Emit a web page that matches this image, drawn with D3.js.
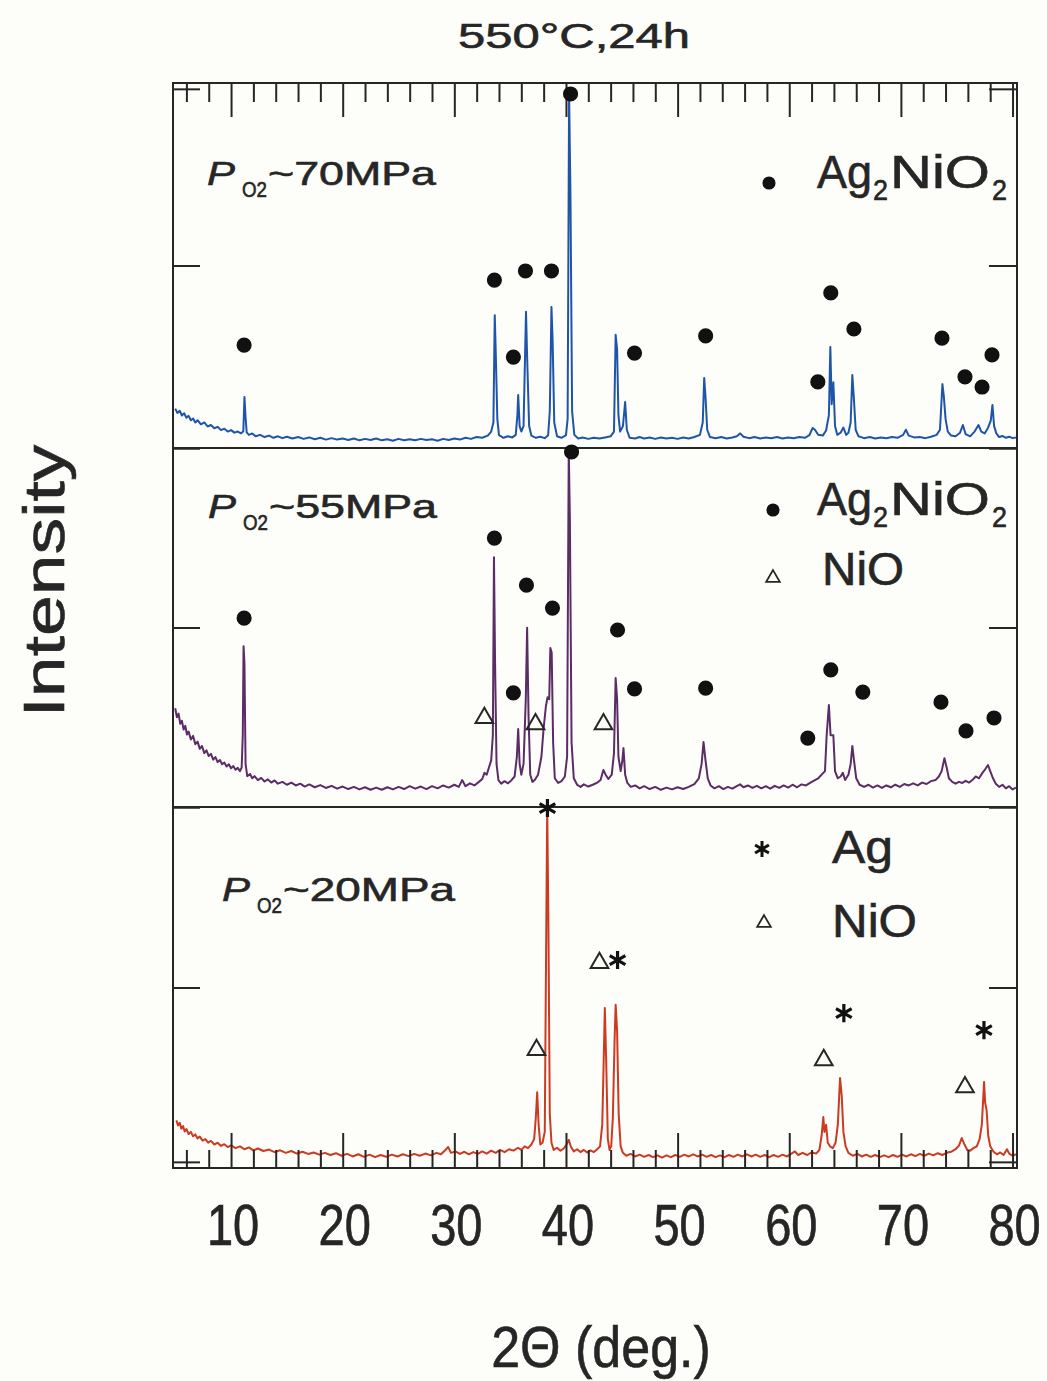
<!DOCTYPE html>
<html><head><meta charset="utf-8">
<script src="https://cdn.jsdelivr.net/npm/d3@7"></script>
<style>html,body{margin:0;padding:0;background:#fdfdf9;}svg{display:block;}</style>
</head><body>
<script>
// ---------------- DATA ----------------
const titleText = "550°C,24h";
const xAxisTitle = "2Θ (deg.)";
const yAxisTitle = "Intensity";
const pressures = ["~70MPa", "~55MPa", "~20MPa"];
const xTickLabels = [10, 20, 30, 40, 50, 60, 70, 80];
const xMinorTicks = [6, 8, 12, 14, 16, 18, 22, 24, 26, 28, 32, 34, 36, 38, 42, 44, 46, 48, 52, 54, 56, 58, 62, 64, 66, 68, 72, 74, 76, 78];

// [2theta, intensity(% of panel height)]
const trace70 = [
[5.0,10.8],[5.2,9.6],[5.4,10.2],[5.6,8.9],[5.8,9.5],[6.0,8.3],[6.2,8.8],[6.4,7.6],[6.6,8.1],[6.8,7.0],[7.0,7.6],[7.3,6.5],[7.6,7.0],[7.9,5.9],[8.2,6.3],[8.5,5.4],[8.8,5.8],[9.1,4.9],[9.4,5.3],[9.7,4.5],[10.0,4.9],[10.3,4.2],[10.6,4.5],[10.9,4.0],[11.1,4.6],[11.2,14.0],[11.3,8.5],[11.4,4.3],[11.6,3.6],[11.9,4.0],[12.2,3.2],[12.6,3.6],[13.0,3.0],[13.4,3.4],[13.8,2.8],[14.2,3.2],[14.6,2.7],[15.0,3.1],[15.5,2.6],[16.0,3.0],[16.5,2.5],[17.0,2.9],[17.5,2.4],[18.0,2.8],[18.5,2.3],[19.0,2.7],[19.5,2.3],[20.0,2.6],[20.5,2.2],[21.0,2.6],[21.5,2.1],[22.0,2.5],[22.5,2.2],[23.0,2.6],[23.5,2.1],[24.0,2.4],[24.5,2.0],[25.0,2.5],[25.5,2.1],[26.0,2.4],[26.5,2.1],[27.0,2.5],[27.5,2.2],[28.0,2.4],[28.5,2.0],[29.0,2.5],[29.5,2.2],[30.0,2.6],[30.5,2.3],[31.0,2.8],[31.5,2.5],[32.0,3.0],[32.5,2.8],[33.0,3.4],[33.3,4.5],[33.5,7.0],[33.62,36.4],[33.72,25],[33.85,8],[34.0,3.5],[34.4,2.8],[34.8,3.2],[35.2,2.9],[35.5,3.6],[35.65,9],[35.72,14.5],[35.85,6],[36.0,4.5],[36.2,6],[36.42,37.3],[36.52,25],[36.7,6],[36.9,3.4],[37.3,2.8],[37.7,3.1],[38.1,2.7],[38.4,3.5],[38.55,10],[38.7,38.6],[38.8,30],[38.95,7],[39.2,3.2],[39.6,2.8],[40.0,3.5],[40.15,8],[40.28,97],[40.4,70],[40.55,10],[40.75,3.6],[41.1,2.6],[41.5,2.9],[42.0,2.5],[42.5,2.8],[43.0,2.6],[43.5,2.9],[44.0,3.2],[44.3,4.5],[44.45,31],[44.58,27],[44.7,9],[44.85,4.5],[45.1,6],[45.3,12.6],[45.45,5],[45.7,2.8],[46.2,2.6],[46.6,3.0],[47.0,2.6],[47.5,2.9],[48.0,2.5],[48.5,2.9],[49.0,2.6],[49.5,2.8],[50.0,2.5],[50.5,2.9],[51.0,2.6],[51.5,3.0],[52.0,3.6],[52.25,7],[52.38,19.2],[52.5,14],[52.65,5],[52.9,3.0],[53.4,2.7],[53.9,3.0],[54.4,2.6],[54.9,2.9],[55.3,3.2],[55.6,4.0],[55.9,3.1],[56.4,2.7],[56.9,3.0],[57.4,2.6],[57.9,2.9],[58.4,2.7],[58.9,3.0],[59.4,2.6],[59.9,2.9],[60.4,2.7],[60.9,3.0],[61.4,2.8],[61.8,3.5],[62.1,5.5],[62.3,5.0],[62.6,3.6],[63.0,3.4],[63.3,4.8],[63.55,9],[63.68,27.7],[63.8,12],[63.95,18],[64.1,6],[64.3,3.6],[64.6,4.2],[64.85,5.6],[65.1,3.6],[65.3,4.2],[65.5,7],[65.65,20],[65.78,14],[65.95,5],[66.2,3.2],[66.7,2.7],[67.2,3.0],[67.7,2.6],[68.2,2.9],[68.7,2.7],[69.2,3.0],[69.7,2.8],[70.2,3.6],[70.45,5.0],[70.7,3.4],[71.2,2.9],[71.7,3.0],[72.2,2.7],[72.7,3.1],[73.2,3.6],[73.5,5.0],[73.72,17.5],[73.85,14],[74.0,8],[74.2,4.5],[74.5,3.4],[74.9,3.2],[75.3,4.2],[75.55,6.3],[75.8,3.8],[76.2,3.2],[76.6,4.5],[76.95,6.3],[77.2,4.5],[77.5,4.0],[77.8,5.5],[78.05,7.5],[78.2,11.8],[78.35,6],[78.55,4.0],[78.8,3.0],[79.1,3.3],[79.4,2.8],[79.7,3.1],[80.0,2.7],[80.3,2.9]
];
const trace55 = [
[5.0,27.5],[5.15,25.0],[5.3,26.0],[5.45,23.2],[5.6,24.0],[5.75,21.6],[5.9,22.6],[6.05,20.2],[6.2,21.0],[6.4,18.8],[6.6,19.8],[6.8,17.5],[7.0,18.2],[7.2,16.2],[7.4,17.0],[7.6,15.0],[7.8,15.8],[8.0,14.2],[8.2,14.8],[8.4,13.2],[8.6,13.9],[8.8,12.5],[9.0,13.1],[9.2,11.9],[9.4,12.4],[9.6,11.3],[9.8,11.9],[10.0,10.8],[10.2,11.4],[10.4,10.4],[10.6,10.9],[10.8,10.0],[10.95,11.0],[11.05,20],[11.12,44.8],[11.2,40],[11.3,12],[11.45,8.6],[11.7,9.2],[11.9,8.0],[12.1,8.6],[12.4,7.5],[12.7,8.1],[13.0,7.1],[13.3,7.7],[13.6,6.8],[13.9,7.4],[14.2,6.5],[14.6,7.0],[15.0,6.2],[15.4,6.8],[15.8,6.0],[16.2,6.5],[16.6,5.7],[17.0,6.3],[17.5,5.5],[18.0,6.1],[18.5,5.3],[19.0,5.9],[19.5,5.1],[20.0,5.7],[20.5,5.0],[21.0,5.6],[21.5,4.9],[22.0,5.5],[22.5,4.8],[23.0,5.4],[23.5,4.8],[24.0,5.5],[24.5,4.9],[25.0,5.6],[25.5,5.0],[26.0,5.8],[26.5,5.1],[27.0,5.7],[27.5,5.0],[28.0,5.8],[28.5,5.2],[29.0,6.0],[29.5,5.4],[30.0,6.2],[30.4,5.6],[30.7,7.5],[31.0,5.8],[31.4,6.6],[31.8,6.0],[32.2,7.0],[32.5,7.8],[32.7,9.5],[32.9,9.0],[33.1,11],[33.3,13],[33.45,20],[33.55,69.6],[33.65,40],[33.78,12],[33.95,7.5],[34.2,6.5],[34.5,7.2],[34.8,6.6],[35.1,7.4],[35.4,8.5],[35.6,14],[35.72,21.7],[35.85,12],[36.0,9],[36.2,12],[36.4,30],[36.52,49.9],[36.65,25],[36.8,9],[37.0,7],[37.2,7.5],[37.5,9],[37.8,14],[38.0,22],[38.2,28],[38.35,30.6],[38.5,30],[38.6,44.3],[38.72,43],[38.85,18],[39.0,8],[39.3,6.7],[39.6,7.2],[39.9,8.5],[40.1,14],[40.25,99.5],[40.35,80],[40.5,18],[40.7,8],[41.0,6.2],[41.3,5.6],[41.6,6.3],[42.0,5.7],[42.4,6.2],[42.8,6.8],[43.1,7.5],[43.35,10.3],[43.55,9],[43.8,7.8],[44.1,9],[44.3,15],[44.45,35.9],[44.58,30],[44.7,14],[44.9,10],[45.05,13],[45.15,16.4],[45.3,9],[45.5,6.7],[45.8,5.6],[46.2,6.0],[46.6,5.2],[47.0,5.8],[47.5,5.0],[48.0,5.6],[48.5,4.8],[49.0,5.4],[49.5,4.9],[50.0,5.5],[50.5,5.0],[51.0,5.6],[51.5,6.4],[51.9,8],[52.15,12],[52.32,18.1],[52.5,13],[52.7,8],[52.95,6],[53.3,5.2],[53.7,5.8],[54.1,5.0],[54.5,5.6],[54.9,5.1],[55.3,5.8],[55.6,6.3],[55.9,5.5],[56.3,6.0],[56.7,5.3],[57.1,5.9],[57.5,5.2],[57.9,5.8],[58.3,5.1],[58.7,5.9],[59.1,5.3],[59.5,6.0],[59.9,5.4],[60.3,6.2],[60.7,5.5],[61.1,6.3],[61.5,6.0],[61.9,6.8],[62.3,7.5],[62.6,8.0],[62.9,9.0],[63.2,10],[63.35,20],[63.55,28.4],[63.7,20],[63.95,20],[64.1,10],[64.35,8],[64.6,8.5],[64.8,9.5],[65.0,7.5],[65.3,9],[65.5,12],[65.65,17],[65.8,13],[66.0,8],[66.3,6.2],[66.7,5.6],[67.1,6.2],[67.5,5.4],[67.9,6.0],[68.3,5.3],[68.7,6.0],[69.1,5.5],[69.5,6.2],[69.9,5.6],[70.3,6.4],[70.7,6.0],[71.1,6.6],[71.5,6.0],[71.9,6.8],[72.3,6.4],[72.7,7.2],[73.1,7.5],[73.4,8.5],[73.65,10],[73.9,13.6],[74.1,11],[74.3,8],[74.6,7],[74.9,6.5],[75.2,7],[75.5,6.7],[75.8,7.3],[76.1,6.8],[76.4,7.5],[76.7,8.5],[77.0,8.0],[77.3,9.5],[77.55,10.5],[77.8,11.7],[78.0,10],[78.25,8],[78.5,6.5],[78.8,5.6],[79.1,6.2],[79.4,5.2],[79.7,5.8],[80.0,4.9],[80.3,5.4]
];
const trace20 = [
[5.1,13.2],[5.25,11.8],[5.4,12.5],[5.55,10.9],[5.7,11.6],[5.85,10.1],[6.0,10.8],[6.2,9.4],[6.4,10.0],[6.6,8.8],[6.8,9.3],[7.0,8.2],[7.2,8.7],[7.45,7.6],[7.7,8.0],[7.95,7.0],[8.2,7.5],[8.5,6.5],[8.8,7.0],[9.1,6.1],[9.4,6.6],[9.7,5.8],[10.0,6.3],[10.4,5.5],[10.8,6.0],[11.2,5.2],[11.6,5.7],[12.0,4.9],[12.4,5.4],[12.9,4.7],[13.4,5.1],[13.9,4.4],[14.4,4.9],[14.9,4.2],[15.4,4.7],[15.9,4.0],[16.4,4.5],[16.9,3.9],[17.4,4.3],[17.9,3.7],[18.4,4.2],[18.9,3.6],[19.4,4.1],[19.9,3.4],[20.4,3.9],[20.9,3.2],[21.4,3.8],[21.9,3.1],[22.4,3.7],[22.9,3.0],[23.4,3.6],[23.9,3.1],[24.4,3.7],[24.9,3.2],[25.4,3.8],[25.9,3.3],[26.4,3.9],[26.9,3.4],[27.4,4.0],[27.9,3.5],[28.4,4.2],[28.8,3.8],[29.2,5.0],[29.45,5.8],[29.7,4.2],[30.1,4.6],[30.5,3.9],[30.9,4.5],[31.3,3.8],[31.7,4.4],[32.1,3.9],[32.5,4.6],[32.9,4.0],[33.3,4.8],[33.7,4.2],[34.1,5.0],[34.5,4.4],[34.9,5.2],[35.3,4.8],[35.7,5.6],[36.0,5.0],[36.3,6.0],[36.6,5.5],[36.9,6.5],[37.15,8],[37.3,14],[37.42,21],[37.55,12],[37.7,6.5],[37.9,7],[38.1,10],[38.22,60],[38.32,99.7],[38.42,70],[38.55,15],[38.7,7],[38.9,5],[39.2,5.6],[39.5,4.8],[39.8,5.4],[40.05,6.5],[40.25,7.8],[40.45,5.8],[40.7,4.6],[41.0,5.2],[41.3,4.4],[41.6,5.0],[41.9,4.3],[42.2,4.9],[42.5,4.4],[42.8,5.2],[43.05,6],[43.25,12],[43.38,30],[43.48,44.3],[43.6,30],[43.75,8],[43.9,5],[44.05,6],[44.2,14],[44.35,35],[44.45,45.2],[44.58,38],[44.72,15],[44.9,6],[45.1,4.2],[45.4,3.4],[45.8,3.9],[46.2,3.2],[46.6,3.7],[47.0,3.1],[47.4,3.6],[47.8,3.0],[48.2,3.5],[48.6,2.9],[49.0,3.5],[49.4,3.0],[49.8,3.6],[50.2,3.1],[50.6,3.7],[51.0,3.2],[51.4,3.8],[51.8,3.2],[52.2,3.7],[52.6,3.1],[53.0,3.6],[53.4,3.0],[53.8,3.5],[54.2,3.0],[54.6,3.6],[55.0,3.1],[55.4,3.7],[55.8,3.2],[56.2,3.8],[56.6,3.2],[57.0,3.7],[57.4,3.1],[57.8,3.6],[58.2,3.0],[58.6,3.6],[59.0,3.1],[59.4,3.7],[59.8,3.2],[60.2,4.0],[60.5,4.6],[60.8,3.6],[61.2,4.2],[61.6,3.6],[62.0,4.3],[62.4,4.0],[62.7,5],[62.9,9],[63.05,14.1],[63.15,10],[63.3,12],[63.45,7],[63.65,6],[63.9,5.5],[64.15,7],[64.35,12],[64.55,24.9],[64.7,20],[64.85,10],[65.05,6],[65.3,4.2],[65.7,3.4],[66.1,3.9],[66.5,3.2],[66.9,3.7],[67.3,3.1],[67.7,3.6],[68.1,3.0],[68.5,3.5],[68.9,3.0],[69.3,3.6],[69.7,3.1],[70.1,3.7],[70.5,3.2],[70.9,3.8],[71.3,3.3],[71.7,3.9],[72.1,3.4],[72.5,4.0],[72.9,3.5],[73.3,4.1],[73.7,3.6],[74.1,4.2],[74.5,4.5],[74.9,5.2],[75.2,6.2],[75.45,8.3],[75.7,6.5],[75.95,5],[76.2,4.8],[76.5,5.5],[76.8,6],[77.05,8],[77.25,12],[77.45,23.8],[77.55,18],[77.68,16],[77.82,9],[78.0,6],[78.3,4.5],[78.6,3.8],[78.9,4.3],[79.2,3.6],[79.5,5.2],[79.7,4.0],[80.0,3.4],[80.3,3.8]
];

// peak markers [2theta, height]
const dots70 = [[11.17,28.2],[33.59,46.0],[35.29,24.9],[36.37,48.5],[38.70,48.5],[40.41,97.0],[46.14,26.0],[52.51,30.7],[62.56,18.1],[63.72,42.5],[65.79,32.6],[73.68,30.1],[75.74,19.5],[77.27,16.7],[78.16,25.5]];
const dots55 = [[11.17,52.6],[33.59,74.9],[35.29,31.8],[36.46,61.8],[38.79,55.4],[40.5,98.9],[44.62,49.3],[46.14,32.9],[52.51,33.1],[61.66,19.2],[63.72,38.2],[66.59,32.0],[73.59,29.2],[75.83,21.2],[78.34,24.8]];
const tris55 = [[32.69,24.8],[37.27,23.1],[43.36,23.1]];
const stars20 = [[38.34,99.7],[44.62,57.6],[64.89,42.9],[77.44,38.2]];
const tris20 = [[37.36,32.7],[43.0,56.8],[63.09,29.9],[75.74,22.4]];

// ---------------- CHART ----------------
const W = 1047, H = 1381;
const FONT = "'Liberation Sans', Arial, Helvetica, sans-serif";
const INK = "#262626";
const L = 173, R = 1017;
const panelBounds = [[83, 448], [448, 807], [807, 1168]];
const colors = ["#1f55a8", "#5b2c66", "#cc3a22"];

const svg = d3.select("body").append("svg").attr("width", W).attr("height", H)
  .style("font-family", FONT);
svg.append("rect").attr("width", W).attr("height", H).attr("fill", "#fdfdf9");

const x = d3.scaleLinear().domain([4.8, 80.4]).range([L, R]);
const ys = panelBounds.map(([t, b]) => d3.scaleLinear().domain([0, 100]).range([b, t]));

const traces = [trace70, trace55, trace20];
traces.forEach((tr, i) => {
  const line = d3.line().x(d => x(d[0])).y(d => ys[i](d[1]));
  svg.append("path").datum(tr).attr("d", line).attr("fill", "none")
    .attr("stroke", colors[i]).attr("stroke-width", 2).attr("stroke-linejoin", "round");
});

// frame
svg.append("rect").attr("x", L).attr("y", 83).attr("width", R - L).attr("height", 1168 - 83)
  .attr("fill", "none").attr("stroke", INK).attr("stroke-width", 2);
[448, 807].forEach(yy => svg.append("line").attr("x1", L).attr("x2", R).attr("y1", yy).attr("y2", yy)
  .attr("stroke", INK).attr("stroke-width", 2));

function styleAxis(g) {
  g.select(".domain").remove();
  g.selectAll(".tick line").attr("stroke", INK).attr("stroke-width", 2);
  g.selectAll(".tick text").remove();
}
// x ticks top & bottom
svg.append("g").attr("transform", `translate(0,83)`)
  .call(d3.axisTop(x).tickValues(xMinorTicks).tickSize(-19).tickFormat("")).call(styleAxis);
svg.append("g").attr("transform", `translate(0,83)`)
  .call(d3.axisTop(x).tickValues(xTickLabels).tickSize(-34).tickFormat("")).call(styleAxis);
svg.append("g").attr("transform", `translate(0,1168)`)
  .call(d3.axisBottom(x).tickValues(xMinorTicks).tickSize(-18).tickFormat("")).call(styleAxis);
svg.append("g").attr("transform", `translate(0,1168)`)
  .call(d3.axisBottom(x).tickValues(xTickLabels).tickSize(-35).tickFormat("")).call(styleAxis);

// y ticks per panel
const yTickSets = [[0, 50, 98.4], [0, 50, 100], [1.7, 50, 100]];
ys.forEach((y, i) => {
  svg.append("g").attr("transform", `translate(${L},0)`)
    .call(d3.axisLeft(y).tickValues(yTickSets[i]).tickSize(-27).tickFormat("")).call(styleAxis);
  svg.append("g").attr("transform", `translate(${R},0)`)
    .call(d3.axisRight(y).tickValues(yTickSets[i]).tickSize(-28).tickFormat("")).call(styleAxis);
});

function txt(s, px, py, size, len, extra) {
  const t = svg.append("text").attr("x", px).attr("y", py).attr("font-size", size)
    .attr("fill", INK).attr("stroke", INK).attr("stroke-width", 0.6).text(s);
  if (len) t.attr("textLength", len).attr("lengthAdjust", "spacingAndGlyphs");
  if (extra) extra(t);
  return t;
}
// text scaled vertically (narrow-looking glyphs), anchored middle
function tallText(s, cx, by, size, sy) {
  return svg.append("text").attr("x", 0).attr("y", 0).attr("font-size", size)
    .attr("text-anchor", "middle").attr("fill", INK).attr("stroke", INK).attr("stroke-width", 0.55)
    .attr("transform", `translate(${cx},${by}) scale(1,${sy})`).text(s);
}

// x tick labels (glyphs ~47px wide-scale, 58px tall)
xTickLabels.forEach(v => tallText(String(v), x(v) + 2, 1245, 47, 1.234));

// title
txt(titleText, 458, 48, 35, 232);
// axis titles
tallText(xAxisTitle, 601, 1367, 52, 1.115);
txt(yAxisTitle, 0, 0, 58, 273, t => t.attr("text-anchor", "middle")
  .attr("transform", "translate(64,581) rotate(-90)"));

// pressure labels
const labelPos = [[207, 185], [208, 518], [222, 901]];
pressures.forEach((p, i) => {
  const [lx, ly] = labelPos[i];
  txt("P", lx, ly, 33, 28, t => t.attr("font-style", "italic"));
  txt("O2", lx + 35, ly + 12, 22, 25);
  txt(p, lx + 61, ly, 33, i === 2 ? 172 : 168);
});

// markers
const sym = (type, size) => d3.symbol().type(type).size(size)();
function drawMarkers(data, y, type) {
  data.forEach(d => {
    const g = svg.append("path").attr("transform", `translate(${x(d[0])},${y(d[1])})`);
    if (type === "dot") g.attr("d", sym(d3.symbolCircle, 180)).attr("fill", "#111");
    else if (type === "tri") g.attr("d", sym(d3.symbolTriangle, 135)).attr("fill", "none").attr("stroke", INK).attr("stroke-width", 2);
    else g.attr("d", sym(d3.symbolAsterisk, 230)).attr("fill", "none").attr("stroke", "#111").attr("stroke-width", 3.2);
  });
}
drawMarkers(dots70, ys[0], "dot");
drawMarkers(dots55, ys[1], "dot");
drawMarkers(tris55, ys[1], "tri");
drawMarkers(tris20, ys[2], "tri");
drawMarkers(stars20, ys[2], "star");

// legends
function legendSymbol(type, px, py) {
  const g = svg.append("path").attr("transform", `translate(${px},${py})`);
  if (type === "dot") g.attr("d", sym(d3.symbolCircle, 135)).attr("fill", "#111");
  else if (type === "tri") g.attr("d", sym(d3.symbolTriangle, 80)).attr("fill", "none").attr("stroke", INK).attr("stroke-width", 1.8);
  else g.attr("d", sym(d3.symbolAsterisk, 180)).attr("fill", "none").attr("stroke", "#111").attr("stroke-width", 3);
}
function agnio2(px, py) {
  txt("Ag", px, py, 46, 55);
  txt("2", px + 56, py + 12, 29, 15);
  txt("NiO", px + 73, py, 46, 100);
  txt("2", px + 175, py + 12, 29, 15);
}
legendSymbol("dot", 769, 183); agnio2(817, 188);
legendSymbol("dot", 773, 510); agnio2(817, 515);
legendSymbol("tri", 773, 578); txt("NiO", 822, 585, 46, 82);
legendSymbol("star", 762, 849); txt("Ag", 832, 863, 46, 61);
legendSymbol("tri", 764, 923); txt("NiO", 832, 937, 46, 85);
</script>
</body></html>
